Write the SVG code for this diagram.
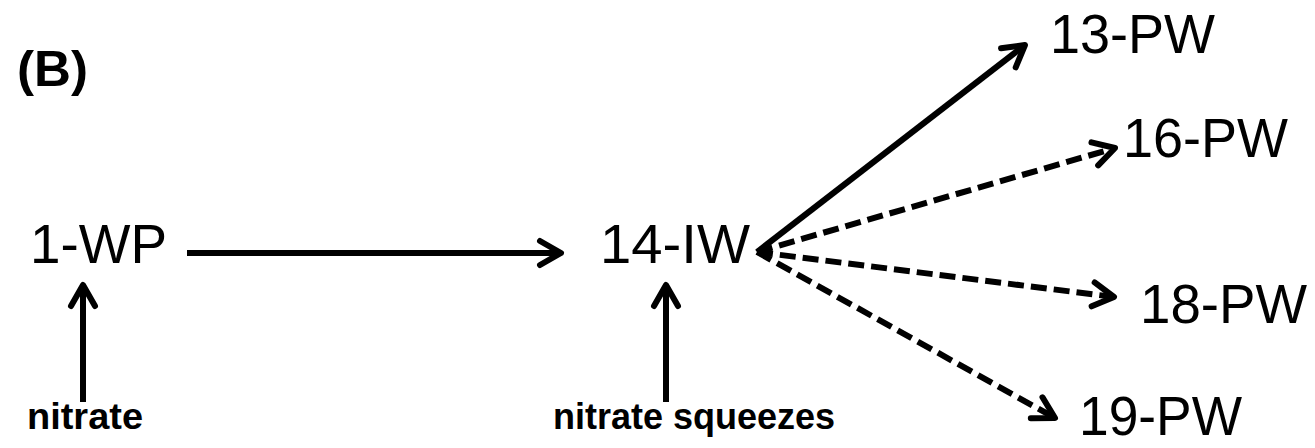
<svg xmlns="http://www.w3.org/2000/svg" width="1315" height="448" viewBox="0 0 1315 448">
  <style>
    .lbl { font-family: "Liberation Sans", Arial, sans-serif; font-size: 56px; fill: #000; }
    .bold { font-family: "Liberation Sans", Arial, sans-serif; font-weight: bold; font-size: 36px; fill: #000; }
    .title { font-family: "Liberation Sans", Arial, sans-serif; font-weight: bold; font-size: 50px; fill: #000; }
    .ln { stroke: #000; stroke-width: 6; fill: none; marker-end: url(#arr); }
    .dash { stroke-dasharray: 16 7; }
  </style>
  <defs>
    <marker id="arr" markerUnits="userSpaceOnUse" viewBox="-28 -18 32 36" refX="0" refY="0" markerWidth="32" markerHeight="36" orient="auto" overflow="visible">
      <path d="M-21,-12 L0,0 L-21,12" fill="none" stroke="#000" stroke-width="6" stroke-linecap="round" stroke-linejoin="round" stroke-dasharray="none"/>
    </marker>
  </defs>
  <rect width="1315" height="448" fill="#fff"/>
  <g id="title">
    <text class="title" x="17" y="86" textLength="71" lengthAdjust="spacingAndGlyphs">(B)</text>
  </g>
  <g id="node-1WP">
    <text class="lbl" x="30" y="263" textLength="137" lengthAdjust="spacingAndGlyphs">1-WP</text>
  </g>
  <g id="node-14IW">
    <text class="lbl" x="600" y="263" textLength="150" lengthAdjust="spacingAndGlyphs">14-IW</text>
  </g>
  <g id="node-13PW">
    <text class="lbl" x="1050" y="53" textLength="165" lengthAdjust="spacingAndGlyphs">13-PW</text>
  </g>
  <g id="node-16PW">
    <text class="lbl" x="1123" y="157" textLength="165" lengthAdjust="spacingAndGlyphs">16-PW</text>
  </g>
  <g id="node-18PW">
    <text class="lbl" x="1140" y="323" textLength="167" lengthAdjust="spacingAndGlyphs">18-PW</text>
  </g>
  <g id="node-19PW">
    <text class="lbl" x="1079" y="435" textLength="163" lengthAdjust="spacingAndGlyphs">19-PW</text>
  </g>
  <g id="node-nitrate">
    <text class="bold" x="27" y="429" textLength="116" lengthAdjust="spacingAndGlyphs">nitrate</text>
  </g>
  <g id="node-nitrate-squeezes">
    <text class="bold" x="553" y="429" textLength="282" lengthAdjust="spacingAndGlyphs">nitrate squeezes</text>
  </g>
  <g id="connectors">
    <line class="ln" x1="187" y1="253" x2="561" y2="253"/>
    <line class="ln" x1="83" y1="402" x2="83" y2="285"/>
    <line class="ln" x1="666" y1="402" x2="666" y2="285"/>
    <line class="ln" x1="757" y1="252" x2="1025" y2="45"/>
    <line class="ln dash" x1="757" y1="252" x2="1115" y2="148"/>
    <line class="ln dash" x1="757" y1="252" x2="1114" y2="297"/>
    <line class="ln dash" x1="757" y1="252" x2="1055" y2="418"/>
  </g>
</svg>
